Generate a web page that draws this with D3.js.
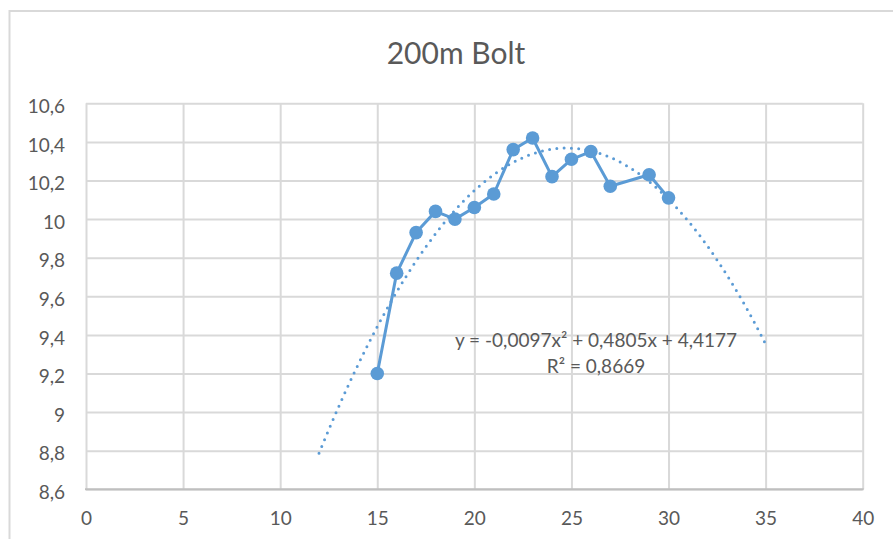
<!DOCTYPE html>
<html>
<head>
<meta charset="utf-8">
<script src="https://cdn.jsdelivr.net/npm/d3@7"></script>
<style>
  html, body { margin: 0; padding: 0; background: #fff; }
  svg { display: block; font-family: Lato, "Open Sans", sans-serif; }
</style>
</head>
<body>
<svg id="chart" width="893" height="539"></svg>
<script>
// Age (years) and average 200m speed (m/s)
const ages   = [15, 16, 17, 18, 19, 20, 21, 22, 23, 24, 25, 26, 27, 29, 30];
const speeds = [9.20, 9.72, 9.93, 10.04, 10.00, 10.06, 10.13, 10.36, 10.42, 10.22, 10.31, 10.35, 10.17, 10.23, 10.11];

// Polynomial trend (order 2): a*x^2 + b*x + c, drawn over this x range
const trendCoef  = [-0.0097, 0.4805, 4.4177];
const trendRange = [12, 35];
const trendLabel = ["y = -0,0097x² + 0,4805x + 4,4177", "R² = 0,8669"];

const xTicks = [0, 5, 10, 15, 20, 25, 30, 35, 40];
const yTicks = [8.6, 8.8, 9, 9.2, 9.4, 9.6, 9.8, 10, 10.2, 10.4, 10.6];
const chartTitle = "200m Bolt";

const blue = "#5b9bd5";
const textColor = "#595959";
const gridColor = "#d9d9d9";

const svg = d3.select("#chart");
const plot = { left: 86, right: 862.7, top: 103.3, bottom: 489.3 };

const x = d3.scaleLinear().domain([0, 40]).range([plot.left, plot.right]);
const y = d3.scaleLinear().domain([8.6, 10.6]).range([plot.bottom, plot.top]);

const locale = d3.formatLocale({ decimal: ",", thousands: ".", grouping: [3], currency: ["", "€"] });
const fmt = locale.format("~g");

// Outer chart frame
svg.append("rect")
  .attr("x", 9.5).attr("y", 11)
  .attr("width", 1000).attr("height", 1000)
  .attr("fill", "none").attr("stroke", gridColor).attr("stroke-width", 2);

// Title
svg.append("text")
  .attr("x", 456).attr("y", 64)
  .attr("text-anchor", "middle")
  .attr("fill", textColor)
  .attr("font-size", 30)
  .text(chartTitle);

// Horizontal gridlines + y labels
const yAxis = svg.append("g")
  .attr("transform", `translate(${plot.left},0)`)
  .call(d3.axisLeft(y).tickValues(yTicks).tickFormat(fmt)
    .tickSize(-(plot.right - plot.left)).tickPadding(21));
yAxis.select(".domain").remove();
yAxis.selectAll(".tick line").attr("stroke", gridColor).attr("stroke-width", 2);
yAxis.selectAll(".tick text")
  .attr("fill", textColor).attr("font-size", 19)
  .attr("font-family", "Lato, sans-serif")
  .attr("dy", "0.48em");

// Vertical gridlines + x labels
const xAxis = svg.append("g")
  .attr("transform", `translate(0,${plot.bottom})`)
  .call(d3.axisBottom(x).tickValues(xTicks).tickFormat(fmt)
    .tickSize(-(plot.bottom - plot.top)).tickPadding(22));
xAxis.select(".domain").remove();
xAxis.selectAll(".tick line").attr("stroke", gridColor).attr("stroke-width", 2);
xAxis.selectAll(".tick text")
  .attr("fill", textColor).attr("font-size", 19)
  .attr("font-family", "Lato, sans-serif")
  .attr("dy", "0.72em");

// Horizontal axis line
svg.append("line")
  .attr("x1", plot.left - 1).attr("x2", plot.right + 1)
  .attr("y1", plot.bottom).attr("y2", plot.bottom)
  .attr("stroke", "#bfbfbf").attr("stroke-width", 2);

// Trendline (dotted)
const trend = d3.range(trendRange[0], trendRange[1] + 0.001, 0.1).map(v => {
  const t = Math.min(v, trendRange[1]);
  return [t, trendCoef[0] * t * t + trendCoef[1] * t + trendCoef[2]];
});
svg.append("path")
  .datum(trend)
  .attr("fill", "none")
  .attr("stroke", blue)
  .attr("stroke-width", 3)
  .attr("stroke-linecap", "round")
  .attr("stroke-dasharray", "0 7.3")
  .attr("d", d3.line().x(d => x(d[0])).y(d => y(d[1])));

// Data series
const pts = ages.map((a, i) => [a, speeds[i]]);
svg.append("path")
  .datum(pts)
  .attr("fill", "none")
  .attr("stroke", blue)
  .attr("stroke-width", 3)
  .attr("stroke-linejoin", "round")
  .attr("d", d3.line().x(d => x(d[0])).y(d => y(d[1])));

svg.append("g").selectAll("circle")
  .data(pts)
  .join("circle")
  .attr("cx", d => x(d[0]))
  .attr("cy", d => y(d[1]))
  .attr("r", 6.8)
  .attr("fill", blue);

// Trendline equation label
svg.append("text")
  .attr("x", 596).attr("y", 347)
  .attr("text-anchor", "middle")
  .attr("fill", textColor)
  .attr("font-size", 19)
  .selectAll("tspan")
  .data(trendLabel)
  .join("tspan")
  .attr("x", 596)
  .attr("dy", (d, i) => i === 0 ? 0 : 26)
  .text(d => d);
</script>
</body>
</html>
